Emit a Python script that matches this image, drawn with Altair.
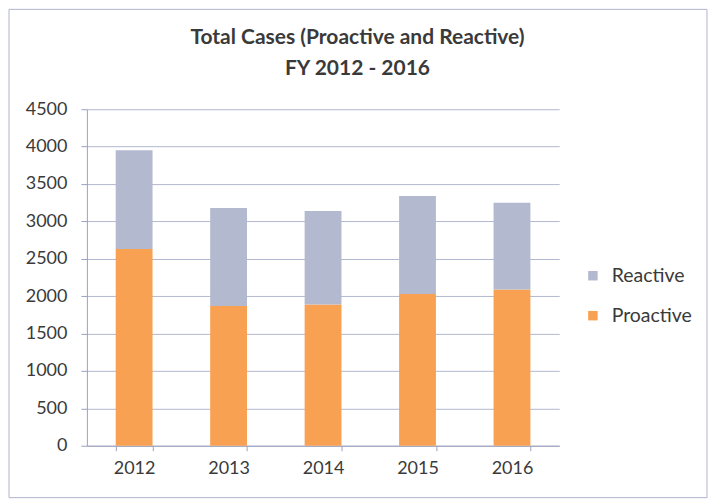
import altair as alt
import pandas as pd

years = ["2012", "2013", "2014", "2015", "2016"]
proactive = [2630, 1870, 1890, 2030, 2090]
reactive = [1320, 1310, 1250, 1310, 1160]
series = ["Reactive", "Proactive"]
y_ticks = [0, 500, 1000, 1500, 2000, 2500, 3000, 3500, 4000, 4500]
title_lines = ["Total Cases (Proactive and Reactive)", "FY 2012 - 2016"]

rows = []
for yr, p, r in zip(years, proactive, reactive):
    rows.append({"year": yr, "type": "Proactive", "cases": p, "rank": 0})
    rows.append({"year": yr, "type": "Reactive", "cases": r, "rank": 1})
df = pd.DataFrame(rows)

FONT = "Lato"
TXT = "#3a3a3a"
AX = "#9aa2bd"

bars = alt.Chart(df).mark_bar().encode(
    x=alt.X("year:N", title=None,
            scale=alt.Scale(paddingInner=0.61, paddingOuter=0.305),
            axis=alt.Axis(labelAngle=0, tickBand="extent", ticks=True, tickSize=5,
                          tickColor=AX, domainColor=AX, labelPadding=9,
                          labelFontSize=18, labelFont=FONT, labelColor=TXT, grid=False)),
    y=alt.Y("cases:Q", stack="zero", title=None,
            scale=alt.Scale(domain=[0, 4500], nice=False),
            axis=alt.Axis(values=y_ticks, format="d", tickSize=6, tickColor=AX, domainColor=AX,
                          labelPadding=14, labelFontSize=18, labelFont=FONT, labelColor=TXT,
                          grid=True, gridColor="#b2b8cf", gridWidth=1)),
    color=alt.Color("type:N",
                    scale=alt.Scale(domain=series, range=["#b3b9cf", "#f9a152"]),
                    legend=alt.Legend(title=None, orient="none", legendX=497, legendY=157,
                                      symbolType="square", symbolSize=90, symbolStrokeWidth=0,
                                      labelFontSize=19.5, labelFont=FONT, labelColor=TXT,
                                      rowPadding=19, labelOffset=9)),
    order=alt.Order("rank:Q", sort="ascending"),
)

frame = alt.Chart(pd.DataFrame({"f": [0]})).mark_rect(
    fill=None, stroke="#b0b4cf", strokeWidth=1
).encode(
    x=alt.value(-78), x2=alt.value(621), y=alt.value(-100), y2=alt.value(389)
)

title1 = alt.Chart(pd.DataFrame({"t": [title_lines[0]]})).mark_text(
    font=FONT, fontSize=21, fontWeight="bold", color=TXT, align="center", baseline="middle"
).encode(text="t:N", x=alt.value(271), y=alt.value(-71))

title2 = alt.Chart(pd.DataFrame({"t": [title_lines[1]]})).mark_text(
    font=FONT, fontSize=21, fontWeight="bold", color=TXT, align="center", baseline="middle"
).encode(text="t:N", x=alt.value(271), y=alt.value(-40))

chart = alt.layer(bars, frame, title1, title2).properties(
    width=473,
    height=337,
    autosize=alt.AutoSizeParams(type="none"),
    padding={"left": 79, "top": 101, "right": 150, "bottom": 60},
).configure(background="white").configure_view(stroke=None)

chart.save("out.html", embed_options={"renderer": "svg", "actions": False})
